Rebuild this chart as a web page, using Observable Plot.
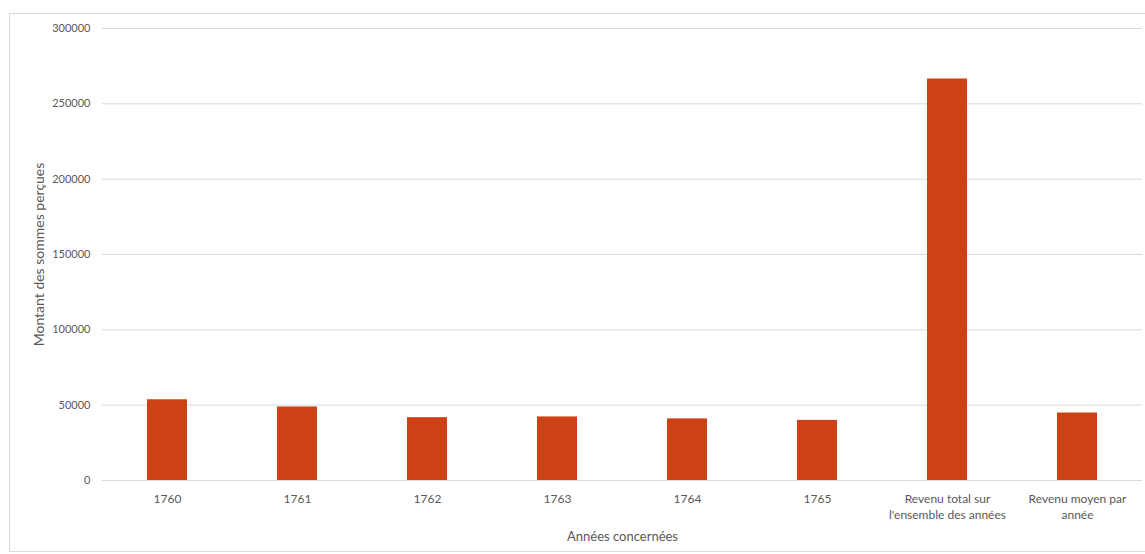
<!DOCTYPE html>
<html>
<head>
<meta charset="utf-8">
<script src="https://cdn.jsdelivr.net/npm/d3@7"></script>
<script src="https://cdn.jsdelivr.net/npm/@observablehq/plot@0.6"></script>
<style>
  html, body { margin: 0; padding: 0; background: #fff; }
  #wrap { position: relative; width: 1145px; height: 554px; overflow: hidden; }
  #border { position: absolute; left: 9px; top: 13px; width: 1160px; height: 539px; border: 1px solid #d9d9d9; box-sizing: border-box; }
  #chart { position: absolute; left: 0; top: 0; }
</style>
</head>
<body>
<div id="wrap"><div id="border"></div><div id="chart"></div></div>
<script>
const categories = ["1760", "1761", "1762", "1763", "1764", "1765", "Revenu total sur\nl'ensemble des années", "Revenu moyen par\nannée"];
const values = [53600, 48800, 41700, 42200, 40900, 39900, 266500, 44800];
const yTicks = [0, 50000, 100000, 150000, 200000, 250000, 300000];

const data = categories.map((c, i) => ({category: c, value: values[i]}));

const chart = Plot.plot({
  width: 1145,
  height: 554,
  marginLeft: 102,
  marginRight: 3,
  marginTop: 28,
  marginBottom: 74,
  style: {fontFamily: "Lato, 'Open Sans', sans-serif", fontSize: "11px", color: "#595959", background: "transparent"},
  x: {domain: categories, paddingInner: 0.69, paddingOuter: 0.345},
  y: {domain: [0, 300000]},
  marks: [
    Plot.gridY(yTicks, {stroke: "#d9d9d9", strokeOpacity: 1, strokeWidth: 1}),
    Plot.barY(data, {x: "category", y: "value", fill: "#cd4116"}),
    Plot.axisY({ticks: yTicks, tickSize: 0, tickPadding: 12, tickFormat: d3.format("d"), fontSize: 11, label: null}),
    Plot.axisY({ticks: [], label: "Montant des sommes perçues", labelAnchor: "center", labelArrow: "none", labelOffset: 68, fontSize: 14, tickSize: 0}),
    Plot.axisX({tickSize: 0, tickPadding: 11, fontSize: 12, lineHeight: 1.35, label: null}),
    Plot.axisX({ticks: [], label: "Années concernées", labelAnchor: "center", labelArrow: "none", labelOffset: 60, fontSize: 13, tickSize: 0})
  ]
});
document.getElementById("chart").appendChild(chart);
</script>
</body>
</html>
